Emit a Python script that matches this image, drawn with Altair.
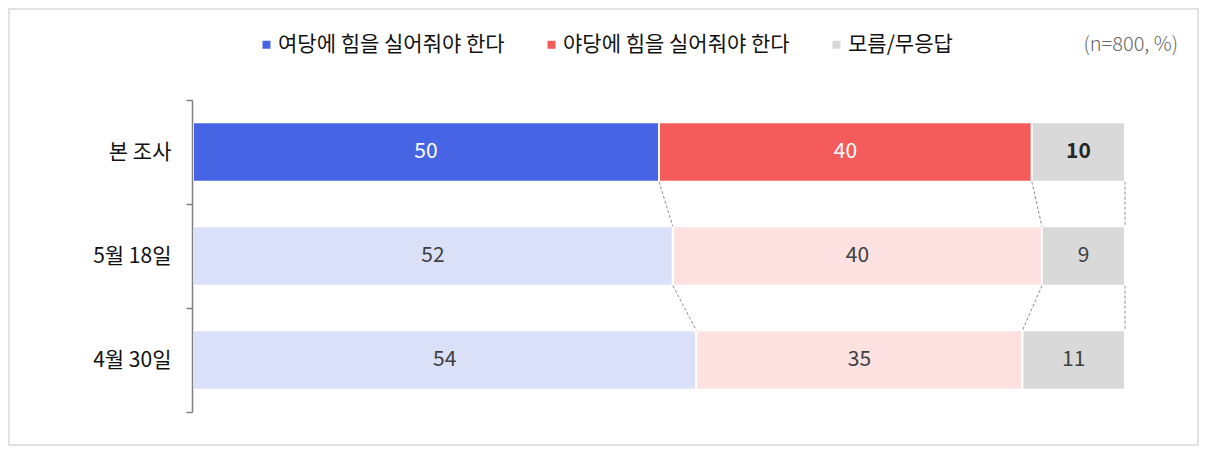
import altair as alt
import pandas as pd

rows = ["본 조사", "5월 18일", "4월 30일"]
cats = ["여당에 힘을 실어줘야 한다", "야당에 힘을 실어줘야 한다", "모름/무응답"]
ruling = [50, 52, 54]
opposition = [40, 40, 35]
unknown = [10, 9, 11]

main_colors = ["#4664E4", "#F45B5B", "#D9D9D9"]
past_colors = ["#DAE0F8", "#FDE1E1", "#D9D9D9"]

records = []
for i, r in enumerate(rows):
    for j, (c, vals) in enumerate(zip(cats, [ruling, opposition, unknown])):
        records.append({
            "row": r, "rowidx": i, "cat": c, "catidx": j, "value": vals[i],
            "key": f"{c}|{'main' if i == 0 else 'past'}",
        })
df = pd.DataFrame(records)

main_keys = [f"{c}|main" for c in cats]
past_keys = [f"{c}|past" for c in cats]

FONT = "Noto Sans CJK KR"

base = alt.Chart(df).transform_stack(
    stack="value", groupby=["row"], sort=[alt.SortField("catidx")],
    as_=["x0", "x1"], offset="normalize"
).transform_calculate(mid="(datum.x0 + datum.x1) / 2")

PAD_IN = 0.43
PAD_OUT = PAD_IN / 2
xscale = alt.Scale(domain=[0, 1], nice=False, zero=False)
yscale = alt.Scale(paddingInner=PAD_IN, paddingOuter=PAD_OUT)

# bracket ticks sit between bands: one step past each band start, shifted back by half the gap
STEP = 312 / 3
GAP_HALF = STEP * PAD_IN / 2
BAND_POS = 1 / (1 - PAD_IN)

yax = alt.Axis(
    title=None, labelFontSize=21, labelColor="#111111", labelPadding=15,
    tickSize=6, tickColor="#808080", domainColor="#808080", tickWidth=1.5,
    domainWidth=1.5, labelFont=FONT, grid=False, zindex=1, offset=1,
    bandPosition=BAND_POS, tickExtra=True, tickOffset=-GAP_HALF,
    labelOffset=GAP_HALF,
)

bars = base.mark_bar(stroke="white", strokeWidth=2).encode(
    x=alt.X("x0:Q", scale=xscale, axis=None),
    x2="x1:Q",
    y=alt.Y("row:N", sort=rows, scale=yscale, axis=yax),
    color=alt.Color(
        "key:N",
        scale=alt.Scale(domain=main_keys + past_keys, range=main_colors + past_colors),
        legend=alt.Legend(
            title=None, orient="none", legendX=63, legendY=-66,
            direction="horizontal", values=main_keys,
            labelExpr="split(datum.label, '|')[0]",
            symbolType="square", symbolSize=64, symbolStrokeWidth=0,
            labelFontSize=21, labelFont=FONT, labelColor="#111111",
            columnPadding=36, labelOffset=1, labelLimit=400,
        ),
    ),
)

txt_main = base.transform_filter("datum.rowidx == 0 && datum.catidx < 2").mark_text(
    fontSize=21, color="white", font=FONT
).encode(x=alt.X("mid:Q", scale=xscale), y=alt.Y("row:N", sort=rows), text="value:Q")

txt_main_gray = base.transform_filter("datum.rowidx == 0 && datum.catidx == 2").mark_text(
    fontSize=21, color="#262626", fontWeight="bold", font=FONT
).encode(x=alt.X("mid:Q", scale=xscale), y=alt.Y("row:N", sort=rows), text="value:Q")

txt_past = base.transform_filter("datum.rowidx > 0").mark_text(
    fontSize=21, color="#404040", font=FONT
).encode(x=alt.X("mid:Q", scale=xscale), y=alt.Y("row:N", sort=rows), text="value:Q")

conn = base.transform_window(
    nx1="lead(x1)", nrow="lead(row)", groupby=["cat"], sort=[alt.SortField("rowidx")]
).transform_filter("datum.nrow != null").mark_rule(
    strokeDash=[3, 2], color="#8c8c8c", strokeWidth=1
).encode(
    x=alt.X("x1:Q", scale=xscale),
    x2="nx1:Q",
    y=alt.Y("row:N", sort=rows, bandPosition=1),
    y2=alt.Y2("nrow", bandPosition=0),
)

frame = alt.Chart(pd.DataFrame({"f": [0]})).mark_rect(
    fill="transparent", stroke="#d9d9d9", strokeWidth=1.5
).encode(
    x=alt.value(-184), x2=alt.value(1005), y=alt.value(-91), y2=alt.value(345)
)

note = alt.Chart(pd.DataFrame({"t": ["(n=800, %)"]})).mark_text(
    align="right", baseline="middle", fontSize=20, fontWeight=300,
    color="#666666", font=FONT
).encode(x=alt.value(985), y=alt.value(-55), text="t:N")

chart = alt.layer(frame, bars, conn, txt_main, txt_main_gray, txt_past, note).properties(
    width=932, height=312, padding=0
).configure(font=FONT).configure_view(stroke=None)

chart.save("out.html", embed_options={"renderer": "svg", "actions": False})
